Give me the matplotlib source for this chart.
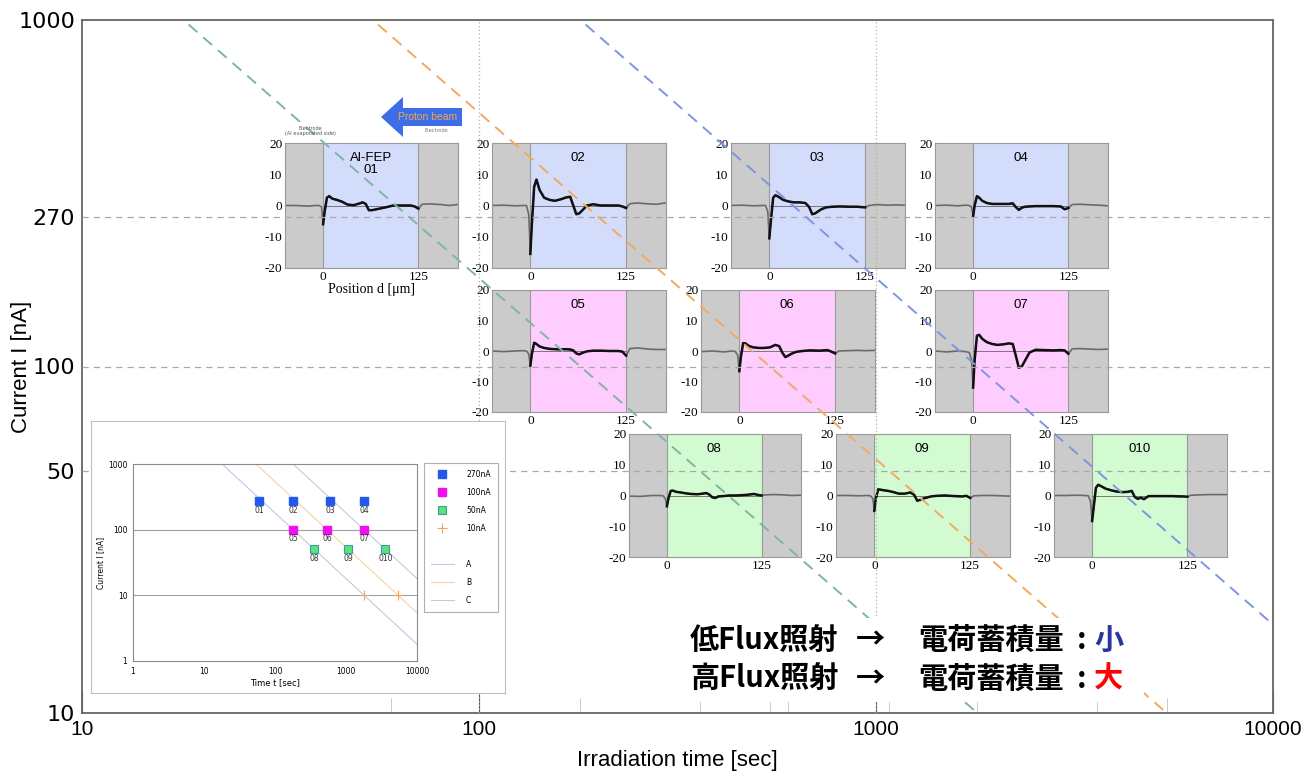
import numpy as np
import matplotlib
matplotlib.use("Agg")
import matplotlib.pyplot as plt
from matplotlib.lines import Line2D
from matplotlib.patches import FancyArrow, Rectangle
from matplotlib.ticker import NullLocator, NullFormatter

plt.rcParams['font.family'] = ['DejaVu Sans']
plt.rcParams['axes.unicode_minus'] = False

W, H = 1303, 772

# irradiation conditions: beam current [nA] and irradiation time [s]
cur_270 = [270, 270, 270, 270]
t_270 = [60, 180, 600, 1800]
names_270 = ['01', '02', '03', '04']
cur_100 = [100, 100, 100]
t_100 = [180, 540, 1800]
names_100 = ['05', '06', '07']
cur_50 = [50, 50, 50]
t_50 = [360, 1080, 3600]
names_50 = ['08', '09', '010']
cur_10 = [10, 10]
t_10 = [1800, 5400]

# total charge of the iso-charge lines A, B, C [nA*s]
charge_A = 18000
charge_B = 54000
charge_C = 180000

level_ticks = [10, 50, 100, 270, 1000]
level_lines = [270, 100, 50]
time_ticks = [10, 100, 1000, 10000]

# measured charge profiles, position d [um] vs signal
pos = [-50, -35, -20, -10, -5, -2, 0, 2, 5, 8, 12, 18, 25, 32, 40, 47, 52,
       56, 60, 64, 68, 74, 82, 92, 105, 115, 120, 125, 130, 140, 155, 165, 176]
w01 = [0, 0, -0.2, 0, 0, -0.5, -6, -2, 2.5, 3, 2.2, 1.8, 1.2, 0.3, 0.1, 0.6, 1,
       0.5, -1.5, -1.5, -1.3, -1, -0.6, 0, 0, 0, -0.3, -1, 0.4, 0.5, 0.3, 0, 0.3]
w02 = [0, 0.1, -0.1, 0, 0, -3, -15.5, -6, 6, 8.3, 5, 2.5, 1.8, 1.5, 2, 2.6, 2.8,
       0, -2.8, -2.5, -1.5, 0, 0.4, 0, 0, 0, -0.3, -0.8, 0.6, 0.8, 0.5, 0.4, 0.8]
w03 = [0, 0.1, -0.1, 0, 0, -2, -10.5, -5, 2.5, 3.3, 2.8, 1.8, 1.3, 1, 1, 0.8, -0.5,
       -2.8, -2.5, -1.8, -1.2, -0.6, -0.4, -0.3, -0.4, -0.4, -0.5, -0.6, 0, 0.3, 0.1, 0.2, 0.1]
w04 = [0, 0.1, -0.1, 0.1, 0, -0.5, -3.5, 0, 3, 2.5, 1.5, 0.8, 0.5, 0.5, 0.5, 0.5, 0.7,
       -0.5, -1.4, -0.7, -0.4, -0.3, -0.2, -0.2, -0.2, -0.3, -1.2, -0.8, 0.3, 0.4, 0.2, 0.1, -0.1]
w05 = [0, -0.2, 0, 0.1, 0, -1, -4.8, -1, 2.7, 2.3, 1.5, 1, 0.7, 0.6, 0.5, 0.6, 0.5,
       0.2, -0.8, -1.1, -0.6, -0.1, 0.1, 0.1, 0, 0, -0.2, -1.5, 0.8, 1, 0.6, 0.5, 0.5]
w06 = [-0.2, 0, -0.3, 0, -0.2, -1.5, -6.6, -2, 2.6, 2.5, 1.7, 1.2, 1, 1, 1.2, 2, 1.6,
       -0.5, -2, -1.5, -0.9, -0.3, 0, 0.2, 0.1, 0.3, -0.2, -0.8, 0, 0.1, 0.2, 0.1, 0.2]
w07 = [0, -0.3, 0, -0.2, -0.5, -3, -12, -3, 5, 5.3, 4, 2.9, 2.3, 2, 2.2, 2.5, 2.3,
       -1.5, -5.5, -5, -3.2, -0.5, 0.4, 0.3, 0.2, 0.3, 0.2, -0.9, 0.7, 0.8, 0.6, 0.5, 0.6]
w08 = [-0.2, -0.3, 0, 0, -0.1, -1, -3.5, -1, 1.5, 1.6, 1.2, 1, 0.7, 0.5, 0.4, 0.6, 0.8,
       0.3, -0.6, -0.8, -0.3, -0.2, 0, 0, 0.2, 0.5, 0.2, 0, 0.2, 0.3, 0.2, 0, 0.1]
w09 = [0, 0, -0.1, 0, -0.1, -1, -5, -1, 2, 1.9, 1.7, 1.5, 1.1, 0.6, 0.6, 1, 0.2,
       -1.7, -1.4, -1, -0.7, -0.3, -0.1, 0, -0.2, -0.3, -0.1, -0.8, -0.1, 0, 0, -0.1, -0.2]
w010 = [0, 0, 0.1, 0, -0.1, -2, -8.3, -4, 2.5, 3.5, 3, 2.2, 1.7, 1.3, 1.1, 1.2, 1.5,
        -0.5, -1.1, -0.7, -1.2, -0.2, -0.2, -0.2, -0.2, -0.3, -0.3, -0.4, 0.1, 0.2, 0.3, 0.3, 0.3]

col_270 = '#d3dcfa'
col_100 = '#ffccff'
col_50 = '#d2fbd2'
col_gray = '#cbcbcb'

narrow = ['Liberation Sans Narrow', 'Liberation Sans']


def box(x0, y0, x1, y1):
    return [x0 / W, 1 - y1 / H, (x1 - x0) / W, (y1 - y0) / H]


fig = plt.figure(figsize=(W / 100, H / 100), dpi=100)

# main log-log frame
ax = fig.add_axes(box(82, 20, 1273, 713), zorder=0)
ax.set_xscale('log')
ax.set_yscale('log')
ax.set_xlim(10, 10000)
ax.set_ylim(10, 1000)
ax.set_xticks(time_ticks)
ax.set_xticklabels([str(t) for t in time_ticks], family=narrow, fontsize=15)
ax.set_xticks(sorted(set(t_270 + t_100 + t_50 + t_10)), minor=True)
ax.xaxis.set_minor_formatter(NullFormatter())
ax.set_yticks(level_ticks)
ax.set_yticklabels([str(v) for v in level_ticks], fontsize=16)
ax.yaxis.set_minor_locator(NullLocator())
ax.tick_params(axis='x', which='major', direction='in', length=16, color='#555555', pad=5)
ax.tick_params(axis='x', which='minor', direction='in', length=11, color='#c4c4c4')
ax.tick_params(axis='y', length=0, pad=5)
for sp in ax.spines.values():
    sp.set_color('#666666')
    sp.set_linewidth(1.3)
ax.set_xlabel('Irradiation time [sec]', family=narrow, fontsize=16, labelpad=8)
ax.set_ylabel('Current I [nA]', family=narrow, fontsize=16)
ax.yaxis.set_label_coords(-0.042, 0.5)

# charge profile panels
panels = [
    ('01', w01, col_270, (285, 143, 458, 268)),
    ('02', w02, col_270, (492, 143, 666, 268)),
    ('03', w03, col_270, (731, 143, 905, 268)),
    ('04', w04, col_270, (935, 143, 1108, 268)),
    ('05', w05, col_100, (492, 290, 666, 412)),
    ('06', w06, col_100, (701, 290, 875, 412)),
    ('07', w07, col_100, (935, 290, 1108, 412)),
    ('08', w08, col_50, (629, 434, 801, 557)),
    ('09', w09, col_50, (836, 434, 1010, 557)),
    ('010', w010, col_50, (1054, 434, 1227, 557)),
]
p = np.array(pos)
inside = (p >= 0) & (p <= 125)
for name, w, col, b in panels:
    m = fig.add_axes(box(*b), zorder=1)
    w = np.array(w)
    m.set_xlim(-50, 177)
    m.set_ylim(-20, 20)
    m.axvspan(-60, 0, color=col_gray, lw=0)
    m.axvspan(0, 125, color=col, lw=0)
    m.axvspan(125, 190, color=col_gray, lw=0)
    m.axvline(0, color='#9a9a9a', lw=0.8)
    m.axvline(125, color='#9a9a9a', lw=0.8)
    m.hlines(0, 0, 125, color='#666666', lw=0.6)
    m.plot(p, w, color='#6a6a6a', lw=1.2)
    m.plot(p[inside], w[inside], color='#111111', lw=1.8)
    m.set_xticks([0, 125])
    m.set_yticks([-20, -10, 0, 10, 20])
    m.tick_params(length=0, pad=2, labelsize=9.5)
    for lab in m.get_xticklabels() + m.get_yticklabels():
        lab.set_family(['Liberation Serif', 'DejaVu Serif'])
    for sp in m.spines.values():
        sp.set_color('#999999')
        sp.set_linewidth(0.8)
    title = 'Al-FEP\n01' if name == '01' else name
    m.text(62.5, 17, title, ha='center', va='top', fontsize=9.5,
           family=['Liberation Sans'], linespacing=0.95)
    if name == '01':
        m.set_xlabel('Position d [\u03bcm]', family=['Liberation Serif', 'DejaVu Serif'],
                     fontsize=10, labelpad=0)

# reference levels and iso-charge lines drawn over the panels
ov = fig.add_axes(box(82, 20, 1273, 713), zorder=2, facecolor='none')
ov.set_xscale('log')
ov.set_yscale('log')
ov.set_xlim(10, 10000)
ov.set_ylim(10, 1000)
ov.axis('off')
for lev in level_lines:
    ov.axhline(lev, color='#a8a8a8', ls=(0, (5, 4)), lw=0.9)
ov.axvline(100, color='#b0b0b0', ls=(0, (1, 2)), lw=0.9)
ov.axvline(1000, color='#b0b0b0', ls=(0, (1, 2)), lw=0.9)
t_line = np.array([10.0, 10000.0])
ov.plot(t_line, charge_A / t_line, color='#7fb5a2', ls=(0, (6, 4)), lw=1.4)
ov.plot(t_line, charge_B / t_line, color='#f3a95e', ls=(0, (6, 4)), lw=1.4)
ov.plot(t_line, charge_C / t_line, color='#7d95e2', ls=(0, (6, 4)), lw=1.4)

# summary chart in the lower left
ib = fig.add_axes(box(91, 421, 505, 693), zorder=3)
ib.set_xticks([])
ib.set_yticks([])
for sp in ib.spines.values():
    sp.set_color('#c0c0c0')

ia = fig.add_axes(box(133, 464, 417, 661), zorder=4)
ia.set_xscale('log')
ia.set_yscale('log')
ia.set_xlim(1, 10000)
ia.set_ylim(1, 1000)
ia.xaxis.set_minor_locator(NullLocator())
ia.yaxis.set_minor_locator(NullLocator())
ia.set_xticks([1, 10, 100, 1000, 10000])
ia.set_xticklabels(['1', '10', '100', '1000', '10000'])
ia.set_yticks([1, 10, 100, 1000])
ia.set_yticklabels(['1', '10', '100', '1000'])
ia.tick_params(length=0, labelsize=5.5, pad=4)
for sp in ia.spines.values():
    sp.set_color('#8a8a8a')
    sp.set_linewidth(0.8)
ia.set_xlabel('Time t [sec]', fontsize=6, labelpad=2)
ia.set_ylabel('Current I [nA]', fontsize=5.5, labelpad=2)
ia.axhline(100, color='#a0a0a0', lw=0.8)
ia.axhline(10, color='#a0a0a0', lw=0.8)
t_in = np.array([1.0, 10000.0])
lA, = ia.plot(t_in, charge_A / t_in, color='#bccbe3', lw=0.8)
lB, = ia.plot(t_in, charge_B / t_in, color='#f6d3a5', lw=0.8)
lC, = ia.plot(t_in, charge_C / t_in, color='#c3cbdc', lw=0.8)
m270, = ia.plot(t_270, cur_270, 's', ms=6, color='#2457ee', ls='none')
m100, = ia.plot(t_100, cur_100, 's', ms=6, color='#ee10ee', ls='none')
m50, = ia.plot(t_50, cur_50, 's', ms=6, mfc='#5ee07a', mec='#3a9c9c', mew=0.8, ls='none')
m10, = ia.plot(t_10, cur_10, '+', ms=7, color='#f2a45c', mew=0.8, ls='none')
for ts, cs, ns in [(t_270, cur_270, names_270), (t_100, cur_100, names_100),
                   (t_50, cur_50, names_50)]:
    for t, c, n in zip(ts, cs, ns):
        ia.annotate(n, (t, c), xytext=(0, -6.5), textcoords='offset points',
                    ha='center', va='center', fontsize=5.5, color='#333333')
blank = Line2D([], [], ls='none')
leg = fig.legend([m270, m100, m50, m10, blank, lA, lB, lC],
                 ['270nA', '100nA', '50nA', '10nA', '', 'A', 'B', 'C'],
                 loc='upper left', bbox_to_anchor=(424 / W, 1 - 463 / H),
                 fontsize=5.5, fancybox=False, edgecolor='#b0b0b0', labelspacing=1.18,
                 handlelength=3.0, handletextpad=1.6, borderpad=0.9, borderaxespad=0,
                 framealpha=1)
leg.get_frame().set_linewidth(0.8)
leg.set_zorder(6)

# annotations in pixel coordinates
cv = fig.add_axes([0, 0, 1, 1], zorder=5, facecolor='none')
cv.set_xlim(0, W)
cv.set_ylim(H, 0)
cv.axis('off')
cv.add_patch(FancyArrow(462, 117, -81, 0, width=18, head_width=40, head_length=22,
                        length_includes_head=True, color='#3d6ee8', lw=0))
cv.text(428, 117, 'Proton beam', color='#f2a650', fontsize=7.5, ha='center', va='center',
        family=['Liberation Sans'])
cv.text(310, 131, 'Electrode\n(Al evaporated side)', fontsize=3.6, ha='center', va='center',
        color='#555555', linespacing=0.9)
cv.text(436, 131, 'Electrode', fontsize=3.6, ha='center', va='center', color='#777777')

cv.add_patch(Rectangle((680, 618), 464, 84, fc='white', ec='none'))
jp = ['Noto Sans CJK JP', 'DejaVu Sans']
for y, word, mark, mcol in [(640, '低Flux照射', '小', '#2a36a0'),
                            (679, '高Flux照射', '大', '#ff0000')]:
    cv.text(690, y, word, fontsize=21, weight='bold', family=jp, ha='left', va='center')
    cv.text(870, y, '→', fontsize=21, weight='bold', family=jp, ha='center', va='center')
    cv.text(918, y, '電荷蓄積量', fontsize=21, weight='bold', family=jp, ha='left', va='center')
    cv.text(1082, y, ':', fontsize=21, weight='bold', family=jp, ha='center', va='center')
    cv.text(1094, y, mark, fontsize=21, weight='bold', family=jp, ha='left', va='center',
            color=mcol)

fig.savefig('out.png', dpi=100)
